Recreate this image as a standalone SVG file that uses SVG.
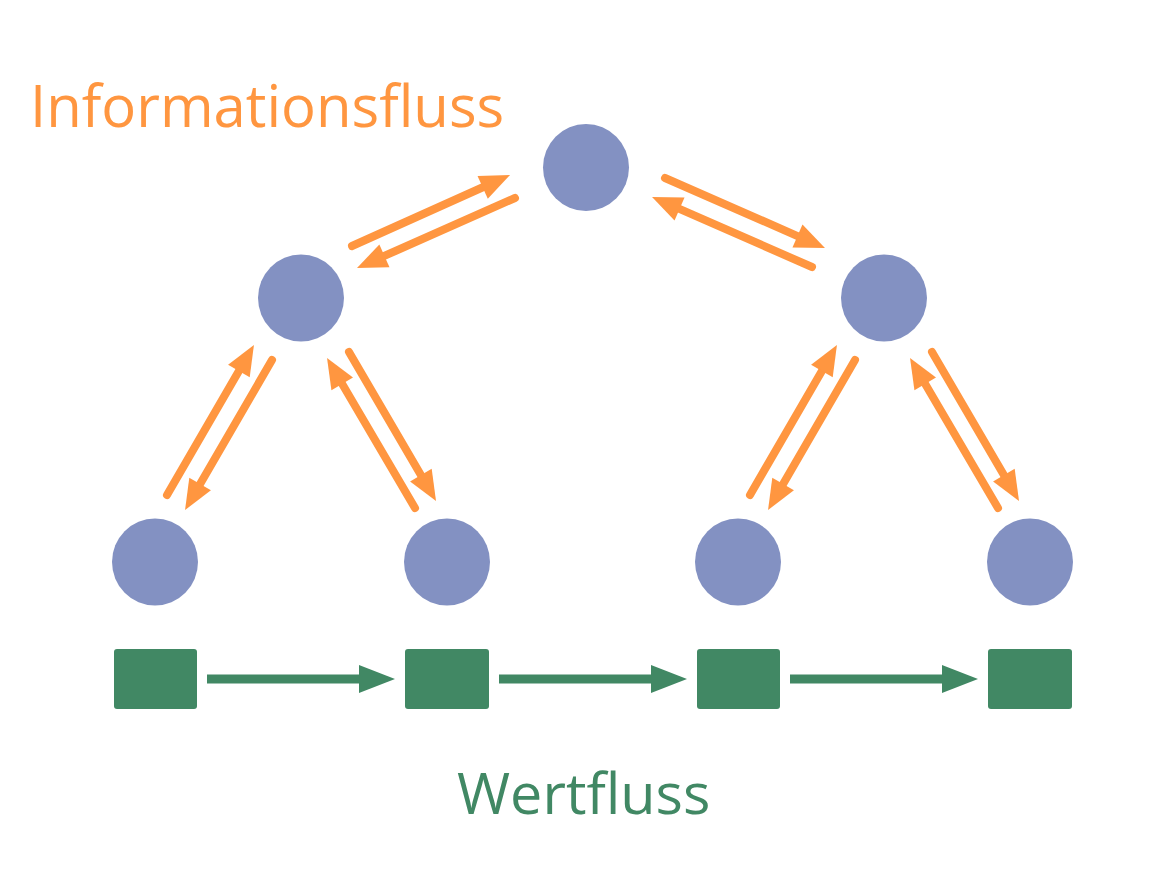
<svg xmlns="http://www.w3.org/2000/svg" width="1166" height="894" viewBox="0 0 1166 894">
<defs>
<style>
.node{fill:#8391C2}
.box{fill:#418864}
.info{stroke:#FF9640;stroke-width:8;stroke-linecap:round;fill:none;marker-end:url(#oh)}
.val{stroke:#418864;stroke-width:9;fill:none;marker-end:url(#gh)}
.lbl{font-family:"Open Sans","Noto Sans",sans-serif}
</style>
<marker id="oh" markerUnits="userSpaceOnUse" markerWidth="31" markerHeight="25" refX="2" refY="12.5" orient="auto" overflow="visible">
<path d="M0,0 L30,12.5 L0,25 Z" fill="#FF9640"/>
</marker>
<marker id="gh" markerUnits="userSpaceOnUse" markerWidth="36" markerHeight="28" refX="2" refY="14" orient="auto" overflow="visible">
<path d="M0,0 L36,14 L0,28 Z" fill="#418864"/>
</marker>
</defs>
<rect width="1166" height="894" fill="#FFFFFF"/>
<text class="lbl" x="30" y="127" font-size="58" fill="#FF9640">Informationsfluss</text>
<text class="lbl" x="457" y="814" font-size="57.5" fill="#418864">Wertfluss</text>
<g id="connectors">
<line class="info" x1="352" y1="246" x2="484.5" y2="186.5"/>
<line class="info" x1="515" y1="198" x2="382.6" y2="256.7"/>
<line class="info" x1="665" y1="178" x2="799.3" y2="236.8"/>
<line class="info" x1="812" y1="267" x2="677.7" y2="208.2"/>
<line class="info" x1="167" y1="495" x2="239.9" y2="369.2"/>
<line class="info" x1="272" y1="360" x2="199.1" y2="485.8"/>
<line class="info" x1="415" y1="508" x2="341.2" y2="382.2"/>
<line class="info" x1="349" y1="352" x2="421.9" y2="476.8"/>
<line class="info" x1="750" y1="495" x2="822.9" y2="369.2"/>
<line class="info" x1="855" y1="360" x2="782.1" y2="485.8"/>
<line class="info" x1="998" y1="508" x2="924.2" y2="382.2"/>
<line class="info" x1="932" y1="352" x2="1004.9" y2="476.8"/>
<line class="val" x1="207" y1="679" x2="361" y2="679"/>
<line class="val" x1="499" y1="679" x2="653" y2="679"/>
<line class="val" x1="790" y1="679" x2="944" y2="679"/>
</g>
<g id="n-top"><ellipse class="node" cx="586" cy="167.5" rx="43" ry="43.5"/></g>
<g id="n-midleft"><ellipse class="node" cx="301" cy="298" rx="43" ry="43.5"/></g>
<g id="n-midright"><ellipse class="node" cx="884" cy="298" rx="43" ry="43.5"/></g>
<g id="n-leaf1"><ellipse class="node" cx="155" cy="562" rx="43" ry="43.5"/></g>
<g id="n-leaf2"><ellipse class="node" cx="447" cy="562" rx="43" ry="43.5"/></g>
<g id="n-leaf3"><ellipse class="node" cx="738" cy="562" rx="43" ry="43.5"/></g>
<g id="n-leaf4"><ellipse class="node" cx="1030" cy="562" rx="43" ry="43.5"/></g>
<g id="b1"><rect class="box" x="114" y="649" width="83" height="60" rx="3"/></g>
<g id="b2"><rect class="box" x="405" y="649" width="84" height="60" rx="3"/></g>
<g id="b3"><rect class="box" x="697" y="649" width="83" height="60" rx="3"/></g>
<g id="b4"><rect class="box" x="988" y="649" width="84" height="60" rx="3"/></g>
</svg>
